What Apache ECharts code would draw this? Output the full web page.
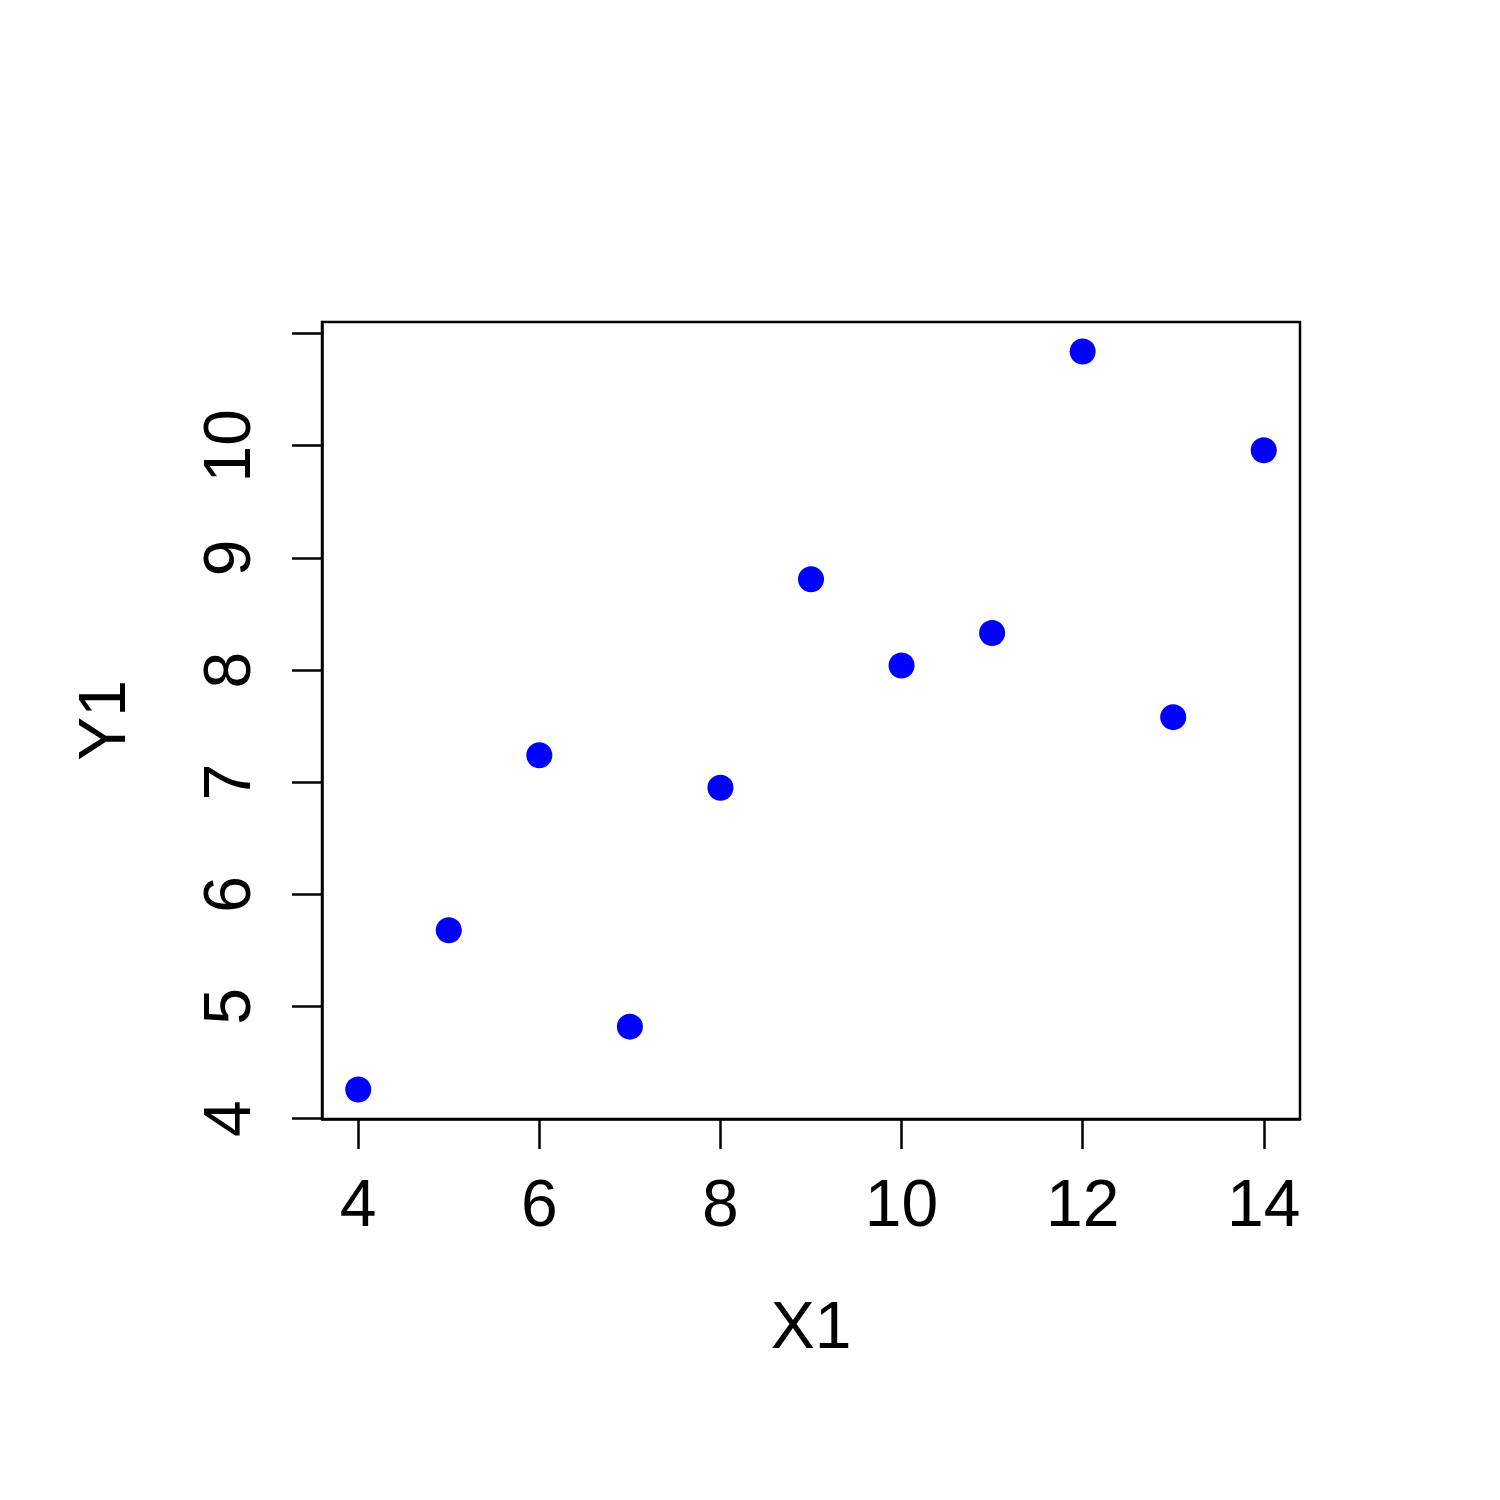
<!DOCTYPE html>
<html>
<head>
<meta charset="utf-8">
<script src="https://cdn.jsdelivr.net/npm/echarts@6/dist/echarts.min.js"></script>
<style>
    html, body { margin: 0; padding: 0; background: #fff; }
    #chart { width: 1500px; height: 1500px; }
</style>
</head>
<body>
<div id="chart"></div>
<script>
// 数据
const x1 = [10, 8, 13, 9, 11, 14, 6, 4, 12, 7, 5];
const y1 = [8.04, 6.95, 7.58, 8.81, 8.33, 9.96, 7.24, 4.26, 10.84, 4.82, 5.68];
const xTicks = [4, 6, 8, 10, 12, 14];
const yTicks = [4, 5, 6, 7, 8, 9, 10, 11];
const yLabels = [4, 5, 6, 7, 8, 9, 10];

const font = 'Liberation Sans, Arial, sans-serif';
const points = x1.map((x, i) => [x, y1[i]]);

const chart = echarts.init(document.getElementById('chart'));

chart.setOption({
    backgroundColor: '#ffffff',
    animation: false,
    grid: {
        left: 322,
        right: 200,
        top: 322,
        bottom: 381,
        show: true,
        borderColor: '#000',
        borderWidth: 2.5,
        backgroundColor: 'transparent'
    },
    xAxis: {
        type: 'value',
        min: 3.6,
        max: 14.4,
        name: 'X1',
        nameLocation: 'middle',
        nameGap: 178,
        nameTextStyle: { color: '#000', fontSize: 66, fontFamily: font },
        axisLine: { show: true, lineStyle: { color: '#000', width: 2.5 } },
        axisTick: {
            show: true,
            length: 30,
            customValues: xTicks,
            lineStyle: { color: '#000', width: 2.5 }
        },
        axisLabel: {
            customValues: xTicks,
            color: '#000',
            fontSize: 66,
            fontFamily: font,
            margin: 56
        },
        splitLine: { show: false }
    },
    yAxis: {
        type: 'value',
        min: 3.9968,
        max: 11.1032,
        name: 'Y1',
        nameLocation: 'middle',
        nameGap: 182,
        nameRotate: 90,
        nameTextStyle: { color: '#000', fontSize: 66, fontFamily: font },
        axisLine: { show: true, lineStyle: { color: '#000', width: 2.5 } },
        axisTick: {
            show: true,
            length: 30,
            customValues: yTicks,
            lineStyle: { color: '#000', width: 2.5 }
        },
        axisLabel: {
            customValues: yLabels,
            rotate: 90,
            color: '#000',
            fontSize: 66,
            fontFamily: font,
            margin: 57
        },
        splitLine: { show: false }
    },
    series: [{
        type: 'scatter',
        data: points,
        symbol: 'circle',
        symbolSize: 26,
        itemStyle: { color: '#0000ff', opacity: 1 }
    }]
});
</script>
</body>
</html>
